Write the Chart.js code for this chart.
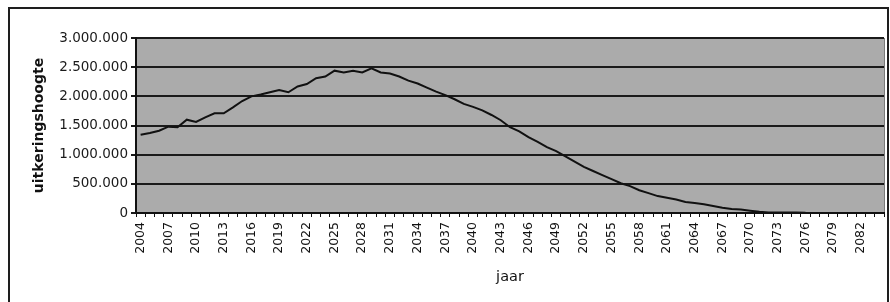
<!DOCTYPE html>
<html>
<head>
<meta charset="utf-8">
<script src="https://cdn.jsdelivr.net/npm/chart.js@4/dist/chart.umd.min.js"></script>
<style>
  html, body { margin: 0; padding: 0; background: #fff; }
  canvas { display: block; }
</style>
</head>
<body>
<canvas id="uitkeringChart" width="890" height="302"></canvas>
<script>
// years on the category axis
const jaren = [
  '2004','2005','2006','2007','2008','2009','2010','2011','2012','2013',
  '2014','2015','2016','2017','2018','2019','2020','2021','2022','2023',
  '2024','2025','2026','2027','2028','2029','2030','2031','2032','2033',
  '2034','2035','2036','2037','2038','2039','2040','2041','2042','2043',
  '2044','2045','2046','2047','2048','2049','2050','2051','2052','2053',
  '2054','2055','2056','2057','2058','2059','2060','2061','2062','2063',
  '2064','2065','2066','2067','2068','2069','2070','2071','2072','2073',
  '2074','2075','2076','2077','2078','2079','2080','2081','2082','2083',
  '2084'
];

// uitkeringshoogte per year
const uitkering = [
  1340000, 1370000, 1410000, 1480000, 1470000, 1600000, 1560000, 1640000, 1710000, 1710000,
  1810000, 1920000, 2000000, 2030000, 2070000, 2110000, 2070000, 2170000, 2210000, 2310000,
  2340000, 2440000, 2410000, 2440000, 2410000, 2480000, 2410000, 2390000, 2340000, 2270000,
  2220000, 2150000, 2080000, 2020000, 1950000, 1870000, 1820000, 1760000, 1680000, 1590000,
  1470000, 1400000, 1300000, 1220000, 1130000, 1060000, 970000, 880000, 790000, 720000,
  650000, 580000, 510000, 460000, 390000, 340000, 290000, 260000, 230000, 190000,
  170000, 150000, 120000, 90000, 70000, 60000, 40000, 20000, 10000, 10000,
  10000, 10000, 5000, null, null, null, null, null, null, null,
  null
];

// y axis ticks
const yTicks = [0, 500000, 1000000, 1500000, 2000000, 2500000, 3000000];

// dutch thousands separator
function formatNL(v) {
  return String(v).replace(/\B(?=(\d{3})+(?!\d))/g, '.');
}

// grey plot area + outer frame, like the old excel chart
const excelLook = {
  id: 'excelLook',
  beforeDraw(chart) {
    const {ctx, chartArea: a} = chart;
    ctx.save();
    ctx.fillStyle = '#ababab';
    ctx.fillRect(a.left, a.top, a.right - a.left, a.bottom - a.top);
    ctx.strokeStyle = '#7a7a7a';
    ctx.lineWidth = 1;
    ctx.beginPath();
    ctx.moveTo(a.right + 0.5, a.top);
    ctx.lineTo(a.right + 0.5, a.bottom);
    ctx.stroke();
    ctx.restore();
  },
  afterDraw(chart) {
    const ctx = chart.ctx;
    ctx.save();
    ctx.strokeStyle = '#1e1e1e';
    ctx.lineWidth = 2;
    ctx.strokeRect(9, 8, 879, 300);
    ctx.restore();
  }
};

const ctx = document.getElementById('uitkeringChart').getContext('2d');
const chart = new Chart(ctx, {
  type: 'line',
  data: {
    labels: jaren,
    datasets: [{
      label: 'uitkeringshoogte',
      data: uitkering,
      borderColor: '#111',
      borderWidth: 2,
      pointRadius: 0,
      tension: 0,
      fill: false,
      spanGaps: false
    }]
  },
  options: {
    responsive: false,
    animation: false,
    layout: { padding: { top: 38, right: 6, left: 0, bottom: 0 } },
    plugins: {
      legend: { display: false },
      tooltip: { enabled: false }
    },
    scales: {
      x: {
        offset: true,
        grid: {
          offset: true,
          drawOnChartArea: false,
          drawTicks: true,
          tickLength: 4,
          color: '#111',
          lineWidth: 1
        },
        border: { display: true, color: '#111', width: 2 },
        ticks: {
          autoSkip: false,
          maxRotation: 90,
          minRotation: 90,
          padding: 5,
          color: '#111',
          font: { family: 'DejaVu Sans', size: 12.5 },
          callback: function (val, idx) {
            return idx % 3 === 0 ? jaren[idx] : '';
          }
        },
        title: {
          display: true,
          text: 'jaar',
          color: '#111',
          font: { family: 'DejaVu Sans', size: 14.5 },
          padding: { top: 0, bottom: 16 }
        },
        afterFit(scale) {
          scale.height = 89;
          // keep the plot running to the right edge like the original
          scale.paddingLeft = 0;
          scale.paddingRight = 0;
        }
      },
      y: {
        min: 0,
        max: 3000000,
        afterBuildTicks(scale) {
          scale.ticks = yTicks.map(v => ({ value: v }));
        },
        grid: {
          color: '#1a1a1a',
          lineWidth: 2,
          drawTicks: true,
          tickLength: 5
        },
        border: { display: true, color: '#111', width: 2 },
        ticks: {
          padding: 3,
          color: '#1a1a1a',
          font: { family: 'DejaVu Sans', size: 13.5 },
          callback: v => formatNL(v)
        },
        title: {
          display: true,
          text: 'uitkeringshoogte',
          color: '#111',
          font: { family: 'DejaVu Sans', size: 14, weight: 'bold' },
          padding: { top: 31, bottom: 0 }
        },
        afterFit(scale) { scale.width = 136; }
      }
    }
  },
  plugins: [excelLook]
});
</script>
</body>
</html>
